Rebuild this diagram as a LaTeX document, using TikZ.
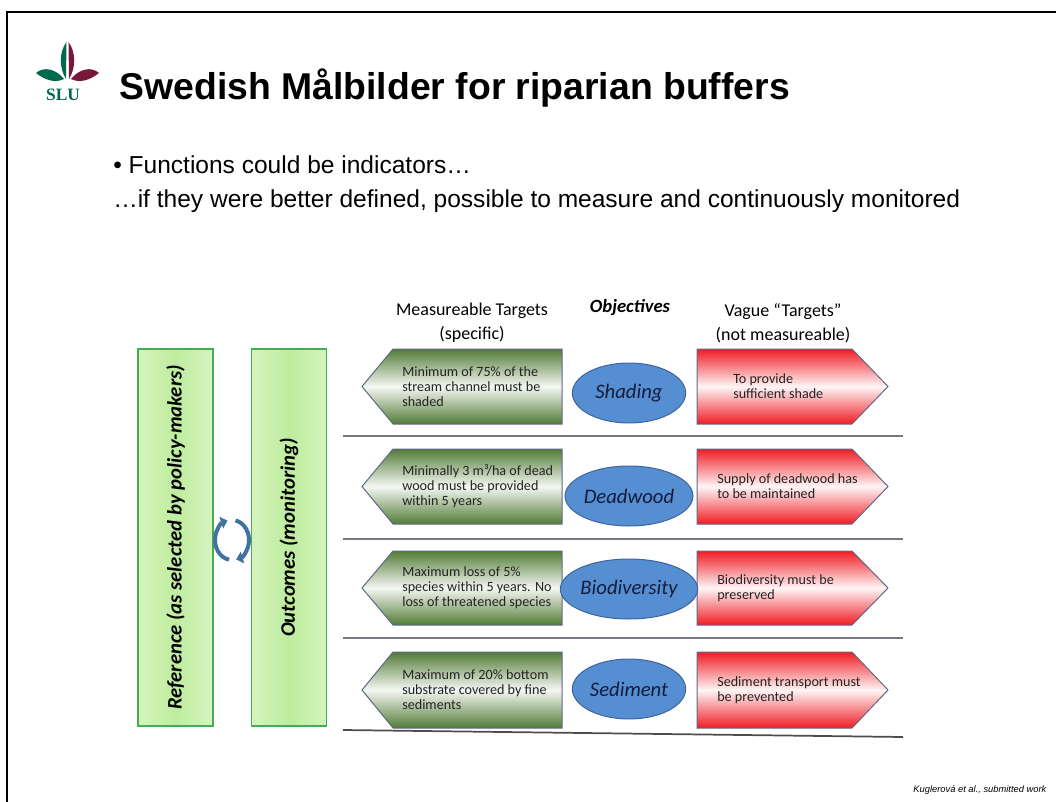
\documentclass[tikz,border=0pt]{standalone}
\usepackage{fontspec}
\setmainfont{Liberation Sans}
\newfontfamily\diagfont{Carlito}
\newfontfamily\logofont{Liberation Serif}
\usetikzlibrary{shapes.geometric,arrows.meta}

\definecolor{slugreen}{RGB}{0,106,78}
\definecolor{slured}{RGB}{122,24,60}
\definecolor{targetgreen}{RGB}{82,124,54}
\definecolor{vaguered}{RGB}{240,28,36}
\definecolor{edgeblue}{RGB}{95,105,135}
\definecolor{textdark}{RGB}{35,35,35}
\definecolor{objblue}{RGB}{86,142,210}
\definecolor{objline}{RGB}{62,100,158}
\definecolor{objtext}{RGB}{20,28,60}
\definecolor{sidelight}{RGB}{214,244,190}
\definecolor{sidemid}{RGB}{190,236,158}
\definecolor{sideline}{RGB}{70,172,82}
\definecolor{rulegray}{RGB}{120,120,130}
\definecolor{cycleblue}{RGB}{66,114,158}

\tikzset{
  measurebox/.style={draw=edgeblue, line width=0.75pt,
    top color=targetgreen, bottom color=targetgreen, middle color=white!94!targetgreen},
  vaguebox/.style={draw=edgeblue, line width=0.75pt,
    top color=vaguered, bottom color=vaguered, middle color=white!96!vaguered},
  boxtext/.style={font=\diagfont\fontsize{10.6}{11.3}\selectfont, text=textdark,
    align=left, anchor=west, inner sep=0pt},
  objective/.style={ellipse, draw=objline, fill=objblue, line width=0.75pt,
    minimum width=85pt, minimum height=45pt, inner sep=0pt,
    font=\diagfont\itshape\fontsize{15.5}{18}\selectfont, text=objtext},
  headtext/.style={font=\diagfont\fontsize{13.5}{18}\selectfont, align=center},
  sidebox/.style={draw=sideline, line width=1pt, rotate=90,
    minimum width=282.75pt, minimum height=56.25pt,
    left color=sidelight, right color=sidelight, middle color=sidemid,
    font=\diagfont\bfseries\itshape\fontsize{15.5}{17}\selectfont},
  rowrule/.style={draw=rulegray, line width=1pt},
  cyclearrow/.style={draw=cycleblue, line width=3pt,
    -{Triangle[width=9pt,length=5pt]}},
}

\begin{document}
\begin{tikzpicture}[x=0.75pt,y=-0.75pt]
\useasboundingbox (0,0) rectangle (1056,802);
% slide frame
\draw[line width=1.5pt] (7,802) -- (7,12.5) -- (1056,12.5);

% logo
\fill[slugreen] (66.5,42) .. controls (59,52) and (59,68) .. (66,79) -- cycle;
\fill[slured] (68.5,42) .. controls (76,52) and (76,68) .. (69,79) -- cycle;
\fill[slugreen] (64,79) .. controls (56,69) and (44,66) .. (36,73)
  .. controls (46,81) and (56,83) .. (64,79);
\fill[slured] (71,79) .. controls (79,69) and (91,66) .. (99,73)
  .. controls (89,81) and (79,83) .. (71,79);
\node[text=slugreen, font=\logofont\bfseries\fontsize{13}{13}\selectfont] (slu) at (63,95) {SLU};

\node[anchor=west, font=\bfseries\fontsize{28}{32}\selectfont] (title) at (115,88)
  {Swedish Målbilder for riparian buffers};
\node[anchor=west, inner sep=0pt, font=\fontsize{18.4}{22}\selectfont] (bullet1) at (113,165)
  {• Functions could be indicators…};
\node[anchor=west, inner sep=0pt, font=\fontsize{18.4}{22}\selectfont] (bullet2) at (113,201)
  {…if they were better defined, possible to measure and continuously monitored};

% column heads
\node[headtext] (mhead) at (472,323) {Measureable Targets\\(specific)};
\node[headtext, font=\diagfont\bfseries\itshape\fontsize{14}{18}\selectfont] (ohead) at (630,308) {Objectives};
\node[headtext] (vhead) at (783,323) {Vague “Targets”\\(not measureable)};

% reference and outcomes
\node[sidebox] (reference) at (175.5,537.5) {Reference (as selected by policy-makers)};
\node[sidebox] (outcomes) at (289,537.5) {Outcomes (monitoring)};
\draw[cyclearrow] (232,540) ++(100:17 and 20) arc[start angle=100, end angle=255, x radius=17, y radius=20];
\draw[cyclearrow] (232,540) ++(-78:17 and 20) arc[start angle=-78, end angle=76, x radius=17, y radius=20];

% rows
\foreach \i/\yt/\yb/\ye/\vx/\mtext/\otext/\vtext in {
  1/349/424/393/733/{Minimum of 75\% of the\\stream channel must be\\shaded}/Shading/{To provide\\sufficient shade},
  2/449/524/496/717/{Minimally 3 m³/ha of dead\\wood must be provided\\within 5 years}/Deadwood/{Supply of deadwood has\\to be maintained},
  3/551/625/589/717/{Maximum loss of 5\%\\species within 5 years. No\\loss of threatened species}/Biodiversity/{Biodiversity must be\\preserved},
  4/652/728/689/717/{Maximum of 20\% bottom\\substrate covered by fine\\sediments}/Sediment/{Sediment transport must\\be prevented}}
{
  \path[measurebox] (393,\yt) -- (562,\yt) -- (562,\yb) -- (393,\yb) -- (362,{(\yt+\yb)/2}) -- cycle;
  \path[vaguebox] (697,\yt) -- (852,\yt) -- (888,{(\yt+\yb)/2}) -- (852,\yb) -- (697,\yb) -- cycle;
  \node[boxtext] (m\i) at (402,{(\yt+\yb)/2}) {\mtext};
  \node[objective] (o\i) at (629,\ye) {\otext};
  \node[boxtext] (v\i) at (\vx,{(\yt+\yb)/2}) {\vtext};
}
\draw[rowrule] (343,436) -- (903,436);
\draw[rowrule] (343,539) -- (903,539);
\draw[rowrule] (343,638) -- (903,638);
\draw[rowrule, draw=black!70, line width=1.3pt] (343,730) -- (903,737);

\node[anchor=east, font=\itshape\fontsize{7}{8}\selectfont] (credit) at (1051,790)
  {Kuglerová et al., submitted work};
\end{tikzpicture}
\end{document}
